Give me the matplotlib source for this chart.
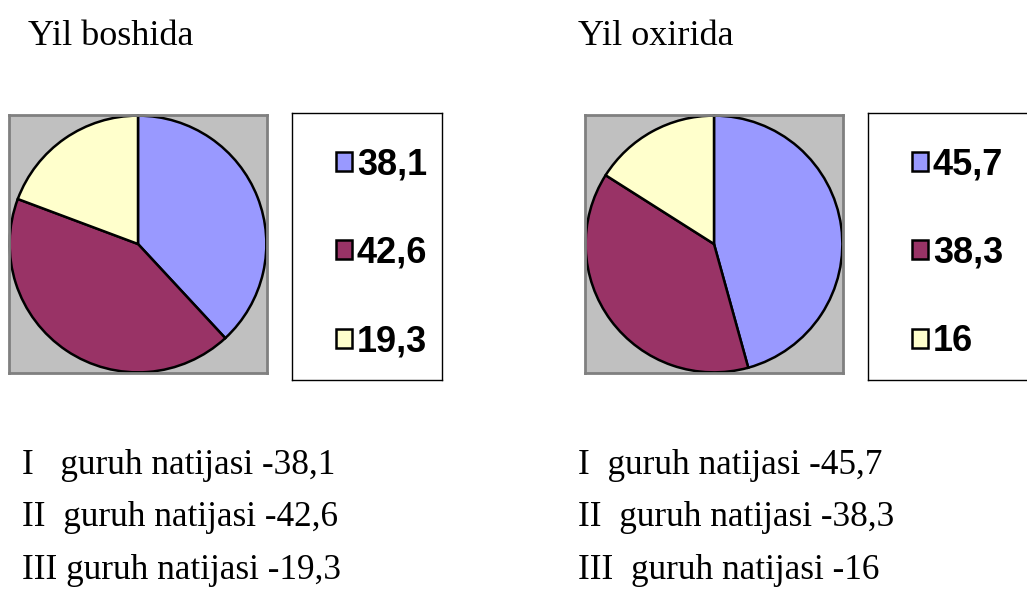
import matplotlib
matplotlib.use("Agg")
import matplotlib.pyplot as plt

# data
groups = ["I", "II", "III"]
start_vals = [38.1, 42.6, 19.3]
end_vals = [45.7, 38.3, 16]
titles = ["Yil boshida", "Yil oxirida"]
gaps_start = ["   ", "  ", " "]
gaps_end = ["  ", "  ", "  "]
colors = ["#9999FF", "#993366", "#FFFFCC"]

W, H = 1027, 602
fig = plt.figure(figsize=(W / 100, H / 100), dpi=100)


def px_axes(x0, y0, x1, y1):
    return fig.add_axes([x0 / W, 1 - y1 / H, (x1 - x0) / W, (y1 - y0) / H])


def fmt(v):
    return f"{v:g}".replace(".", ",")


def draw(vals, gaps, title, pie_x, leg_x, leg_w, text_x, title_x):
    # pie inside the grey plot area
    ax = px_axes(pie_x, 115, pie_x + 258, 373)
    wedges, _ = ax.pie(vals, colors=colors, startangle=90, counterclock=False,
                       radius=0.995, frame=True,
                       wedgeprops=dict(edgecolor="black", linewidth=1.8))
    ax.set_xlim(-1, 1)
    ax.set_ylim(-1, 1)
    ax.set_xticks([])
    ax.set_yticks([])
    ax.set_facecolor("#C0C0C0")
    for s in ax.spines.values():
        s.set_color("#808080")
        s.set_linewidth(2)

    # legend box
    lax = px_axes(leg_x, 113, leg_x + leg_w, 380)
    lax.set_xticks([])
    lax.set_yticks([])
    for s in lax.spines.values():
        s.set_linewidth(1)
    lax.legend(wedges, [fmt(v) for v in vals], loc="center left",
               bbox_to_anchor=(44 / leg_w, 0.475), frameon=False, borderpad=0,
               borderaxespad=0, handlelength=0.44, handleheight=0.44,
               handletextpad=0.14, labelspacing=1.48,
               prop=dict(family="Liberation Sans", weight="bold", size=26))

    fig.text(title_x / W, 1 - 45 / H, title, fontsize=26,
             family="Liberation Serif", va="baseline")
    for i, (g, gap, v) in enumerate(zip(groups, gaps, vals)):
        fig.text(text_x / W, 1 - (474 + 52.5 * i) / H,
                 f"{g}{gap}guruh natijasi -{fmt(v)}", fontsize=25.4,
                 family="Liberation Serif", va="baseline")


draw(start_vals, gaps_start, titles[0], 9, 292, 150, 22, 28)
draw(end_vals, gaps_end, titles[1], 585, 868, 175, 578, 578)

fig.savefig("out.png", dpi=100)
